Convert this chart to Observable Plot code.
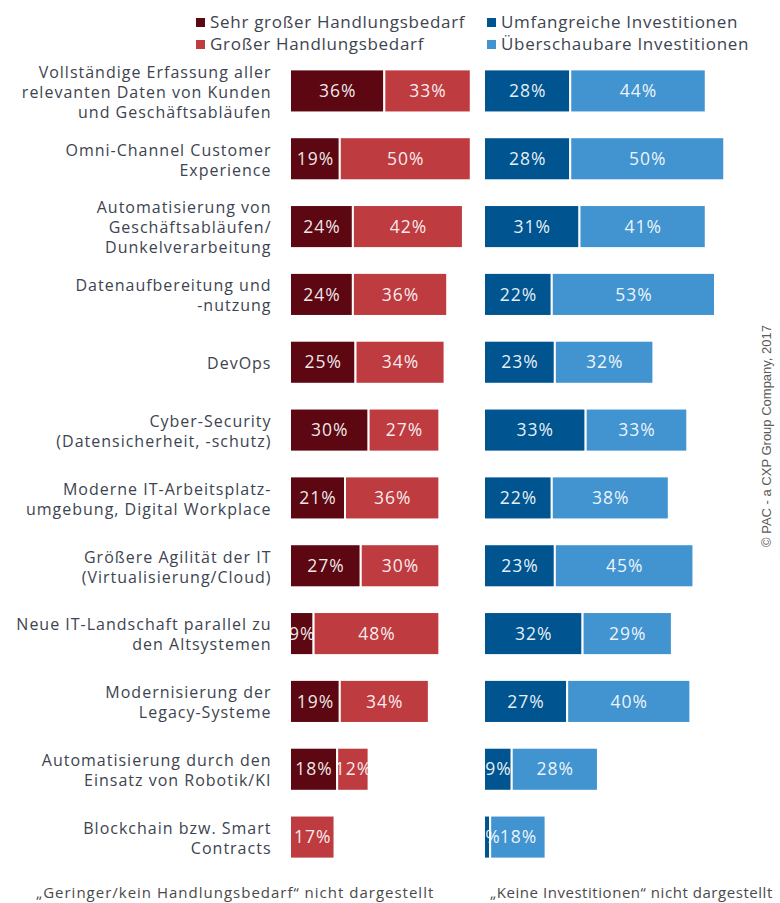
<!DOCTYPE html>
<html><head><meta charset="utf-8">
<script src="https://cdn.jsdelivr.net/npm/d3@7"></script>
<script src="https://cdn.jsdelivr.net/npm/@observablehq/plot@0.6"></script>
<style>
body{margin:0;background:#fff;font-family:"Open Sans",sans-serif;}
#wrap{position:relative;width:780px;height:903px;overflow:hidden;}
.lg{position:absolute;font-size:17px;letter-spacing:0.7px;color:#3d4450;white-space:nowrap;line-height:20px;}
.lg i{display:inline-block;width:9px;height:9px;margin-right:5px;vertical-align:1px;}
.fn{position:absolute;font-size:15px;letter-spacing:1px;color:#4a4a4a;white-space:nowrap;top:882px;}
#copy{position:absolute;font-family:"Liberation Sans",Arial,sans-serif;font-size:13px;color:#5a5a5a;white-space:nowrap;left:766px;top:436px;transform:translate(-50%,-50%) rotate(-90deg);}
.pl{position:absolute;top:57px;}
.pl text{letter-spacing:1px;}
</style></head>
<body><div id="wrap"></div>
<script>
const categories = [
  "Vollständige Erfassung aller\nrelevanten Daten von Kunden\nund Geschäftsabläufen",
  "Omni-Channel Customer\nExperience",
  "Automatisierung von\nGeschäftsabläufen/\nDunkelverarbeitung",
  "Datenaufbereitung und\n-nutzung",
  "DevOps",
  "Cyber-Security\n(Datensicherheit, -schutz)",
  "Moderne IT-Arbeitsplatz-\numgebung, Digital Workplace",
  "Größere Agilität der IT\n(Virtualisierung/Cloud)",
  "Neue IT-Landschaft parallel zu\nden Altsystemen",
  "Modernisierung der\nLegacy-Systeme",
  "Automatisierung durch den\nEinsatz von Robotik/KI",
  "Blockchain bzw. Smart\nContracts"
];
const sehrGross   = [36,19,24,24,25,30,21,27,9,19,18,0];
const gross       = [33,50,42,36,34,27,36,30,48,34,12,17];
const umfangreich = [28,28,31,22,23,33,22,23,32,27,9,2];
const ueberschaubar=[44,50,41,53,32,33,38,45,29,40,28,18];
const seriesLeft = ["Sehr großer Handlungsbedarf","Großer Handlungsbedarf"];
const seriesRight = ["Umfangreiche Investitionen","Überschaubare Investitionen"];
const colorsLeft = ["#5c0711","#be3b40"];
const colorsRight = ["#005591","#4194d0"];
const footLeft = "„Geringer/kein Handlungsbedarf“ nicht dargestellt";
const footRight = "„Keine Investitionen“ nicht dargestellt";
const copyright = "© PAC - a CXP Group Company, 2017";

function tidy(a, b, names){
  const out = [];
  categories.forEach((c,i)=>{
    out.push({cat:c, s:names[0], v:a[i]});
    out.push({cat:c, s:names[1], v:b[i]});
  });
  return out;
}
const left = tidy(sehrGross, gross, seriesLeft);
const right = tidy(umfangreich, ueberschaubar, seriesRight);

function panel(data, names, colors, opts){
  return Plot.plot({
    width: opts.width, height: 814,
    marginLeft: opts.marginLeft, marginRight: 0, marginTop: 0, marginBottom: 0,
    style: {background: "transparent", overflow: "visible"},
    x: {domain: opts.xdomain, axis: null},
    y: {domain: categories, axis: null, paddingInner: 0.365, paddingOuter: 0.1825, round: false},
    color: {domain: names, range: colors},
    marks: [
      Plot.barX(data, {x: "v", y: "cat", fill: "s", stroke: "white", strokeWidth: 2, order: names}),
      Plot.text(data.filter(d=>d.v>0), Plot.stackX({x: "v", y: "cat", z: "s", order: names, text: d=>d.v+"%", fill: "white", fillOpacity: 0.92, fontSize: 17.5, fontFamily: "Open Sans"})),
      ...(opts.labels ? [Plot.text(categories, {y: d=>d, x: 0, text: d=>d, dx: -19, textAnchor: "end", lineHeight: 1.25, fontSize: 16, fill: "#3d4450", fontFamily: "Open Sans"})] : [])
    ]
  });
}

const wrap = document.getElementById("wrap");
const pl = panel(left, seriesLeft, colorsLeft, {width: 480, marginLeft: 290, xdomain: [0, 190/2.62], labels: true});
pl.classList.add("pl"); pl.style.left = "0px"; pl.style.position="absolute"; pl.style.top="57px";
wrap.appendChild(pl);
const pr = panel(right, seriesRight, colorsRight, {width: 296, marginLeft: 0, xdomain: [0, 296/3.08], labels: false});
pr.classList.add("pl"); pr.style.left = "484px"; pr.style.position="absolute"; pr.style.top="57px";
wrap.appendChild(pr);

function legend(names, colors, x, y0){
  names.forEach((n,i)=>{
    const d = document.createElement("div");
    d.className = "lg";
    d.style.left = x+"px"; d.style.top = (y0 + i*22)+"px";
    d.innerHTML = `<i style="background:${colors[i]}"></i>`;
    d.appendChild(document.createTextNode(n));
    wrap.appendChild(d);
  });
}
legend(seriesLeft, colorsLeft, 196, 12);
legend(seriesRight, colorsRight, 487, 12);

const f1 = document.createElement("div"); f1.className="fn"; f1.style.left="36px"; f1.textContent = footLeft; wrap.appendChild(f1);
const f2 = document.createElement("div"); f2.className="fn"; f2.style.left="490px"; f2.style.letterSpacing="0.55px"; f2.textContent = footRight; wrap.appendChild(f2);
const cp = document.createElement("div"); cp.id="copy"; cp.textContent = copyright; wrap.appendChild(cp);
</script></body></html>
